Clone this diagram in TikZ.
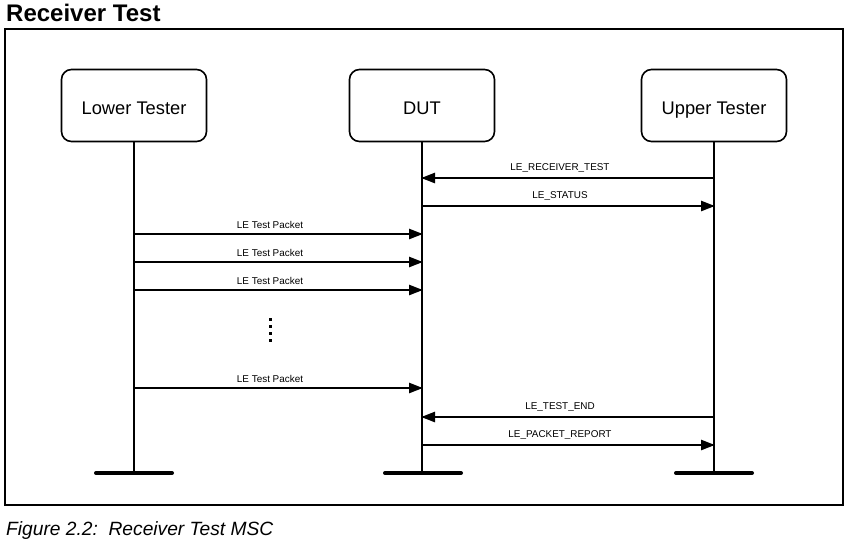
\documentclass[tikz,border=0pt]{standalone}
\usepackage{fontspec}
\setmainfont{Liberation Sans}
\usetikzlibrary{arrows.meta}
\begin{document}
\begin{tikzpicture}[x=1pt,y=-1pt,
  entity/.style={draw,line width=1.6pt,rounded corners=10pt,minimum width=145pt,minimum height=72pt,inner sep=0pt,text height=17pt,text depth=0pt,font=\fontsize{18.3}{20}\selectfont},
  life/.style={line width=2.6pt},
  endbar/.style={line width=4pt,line cap=round},
  msg/.style={line width=2.5pt,-{Triangle[length=14pt,width=10pt]},shorten >=-1pt},
  lbl/.style={font=\fontsize{9.9}{11}\selectfont,above=3.5pt,inner sep=1pt,xshift=-8pt}]
\useasboundingbox (0,0) rectangle (850,539);
\node[anchor=base west,inner sep=0pt,font=\bfseries\fontsize{24}{26}\selectfont] (title) at (6,21) {Receiver Test};
\draw[line width=1.1pt] (5,29) rectangle (843,505);
\node[anchor=base west,inner sep=0pt,font=\itshape\fontsize{19.2}{21}\selectfont] (cap) at (6,535.5) {Figure 2.2:\ \ Receiver Test MSC};
\node[entity] (LT) at (134,105.5) {Lower Tester};
\node[entity] (DUT) at (422,105.5) {DUT};
\node[entity] (UT) at (714,105.5) {Upper Tester};
\coordinate (LTe) at (134,473);
\coordinate (DUTe) at (422,473);
\coordinate (UTe) at (714,473);
\draw[life] (LT.south) -- (LTe);
\draw[life] (DUT.south) -- (DUTe);
\draw[life] (UT.south) -- (UTe);
\coordinate (LTa) at (96,473); \coordinate (LTb) at (172,473);
\coordinate (DUTa) at (385,473); \coordinate (DUTb) at (461,473);
\coordinate (UTa) at (676,473); \coordinate (UTb) at (752,473);
\draw[endbar] (LTa) -- (LTb);
\draw[endbar] (DUTa) -- (DUTb);
\draw[endbar] (UTa) -- (UTb);
% message end points
\foreach \n/\y in {1/178,2/206,3/234,4/262,5/290,6/388,7/417,8/445}{
  \coordinate (L\n) at (134,\y);
  \coordinate (D\n) at (422,\y);
  \coordinate (U\n) at (714,\y);
}
\draw[msg] (U1) -- node[lbl]{LE\_RECEIVER\_TEST} (D1);
\draw[msg] (D2) -- node[lbl]{LE\_STATUS} (U2);
\draw[msg] (L3) -- node[lbl]{LE Test Packet} (D3);
\draw[msg] (L4) -- node[lbl]{LE Test Packet} (D4);
\draw[msg] (L5) -- node[lbl]{LE Test Packet} (D5);
\draw[msg] (L6) -- node[lbl]{LE Test Packet} (D6);
\draw[msg] (U7) -- node[lbl]{LE\_TEST\_END} (D7);
\draw[msg] (D8) -- node[lbl]{LE\_PACKET\_REPORT} (U8);
\foreach \y in {319,326,333,340}{
  \fill (268.5,\y-1.5) rectangle ++(3,3);
}
\end{tikzpicture}
\end{document}
